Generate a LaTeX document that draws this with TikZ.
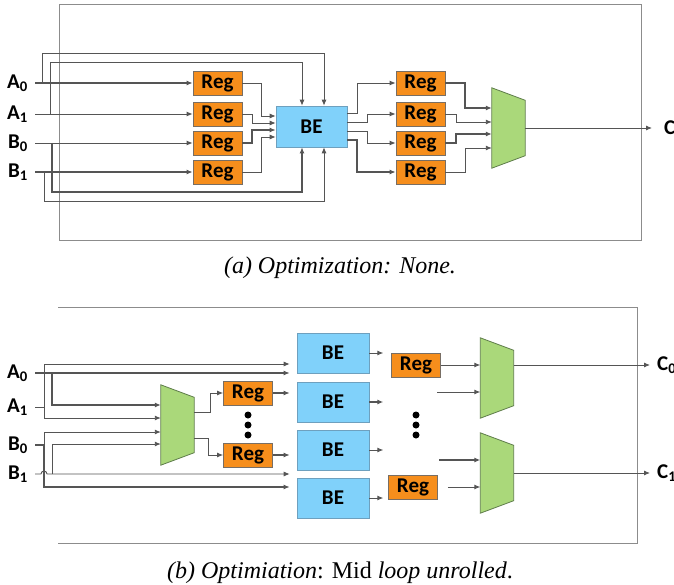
\documentclass[tikz,border=0pt]{standalone}
\usepackage{fontspec}
\setmainfont{Liberation Serif}
\newfontfamily\calib{Carlito}
\usepackage{xcolor}
\definecolor{wiregray}{RGB}{85,85,85}
\definecolor{framegray}{RGB}{140,140,140}
\definecolor{regorange}{RGB}{246,142,28}
\definecolor{regedge}{RGB}{120,110,100}
\definecolor{beblue}{RGB}{128,209,250}
\definecolor{beedge}{RGB}{110,160,190}
\definecolor{muxgreen}{RGB}{170,216,122}
\definecolor{muxedge}{RGB}{95,125,75}
\usetikzlibrary{arrows.meta, positioning}
\newcommand{\muxshape}[1]{%
  \filldraw[fill=muxgreen, draw=muxedge, line width=0.8pt]
    (#1.north west) -- ([yshift=-12.5pt]#1.north east)
    -- ([yshift=12.5pt]#1.south east) -- (#1.south west) -- cycle;}
\tikzset{
  >={Latex[length=6pt,width=5pt]},
  wthin/.style={wiregray, line width=0.9pt},
  wthick/.style={wiregray, line width=1.8pt},
  frame/.style={framegray, line width=1pt},
  sig/.style={font=\calib\bfseries\fontsize{21}{25}\selectfont, inner sep=0pt},
  regbox/.style={draw=regedge, fill=regorange, line width=0.7pt, minimum width=49pt,
    minimum height=24pt, inner sep=0pt, font=\calib\bfseries\fontsize{21}{25}\selectfont},
  bebox/.style={draw=beedge, fill=beblue, line width=0.6pt, inner sep=0pt,
    font=\calib\bfseries\fontsize{21}{25}\selectfont},
  beunit/.style={bebox, minimum width=72pt, minimum height=40pt},
  muxbox/.style={minimum width=33pt, minimum height=80pt, inner sep=0pt},
  dotmark/.style={circle, fill=black, inner sep=0pt, minimum size=7pt},
  captext/.style={font=\fontsize{24}{28}\selectfont\itshape, inner sep=0pt}
}

\begin{document}
\begin{tikzpicture}[x=1pt, y=-1pt]
  \useasboundingbox (0,0) rectangle (674,585);

  % (a) no optimization
  \draw[frame] (59,5) rectangle (641,241);
  \coordinate (ina0) at (35,83);
  \coordinate (ina1) at (35,114);
  \coordinate (inb0) at (35,143);
  \coordinate (inb1) at (35,172);
  \node[sig, left=7pt of ina0] (la0) {A\textsubscript{0}};
  \node[sig, left=7pt of ina1] (la1) {A\textsubscript{1}};
  \node[sig, left=7pt of inb0] (lb0) {B\textsubscript{0}};
  \node[sig, left=7pt of inb1] (lb1) {B\textsubscript{1}};
  \node[regbox] (ra0) at (217.5,83) {Reg};
  \node[regbox] (ra1) at (217.5,114) {Reg};
  \node[regbox] (rb0) at (217.5,143) {Reg};
  \node[regbox] (rb1) at (217.5,172) {Reg};
  \node[bebox, minimum width=71pt, minimum height=41pt] (be) at (311.5,126.5) {BE};
  \node[regbox] (rc0) at (420.5,83) {Reg};
  \node[regbox] (rc1) at (420.5,114) {Reg};
  \node[regbox] (rc2) at (420.5,143) {Reg};
  \node[regbox] (rc3) at (420.5,172) {Reg};
  \node[muxbox] (mxa) at (508.5,128) {};
  \muxshape{mxa}
  \coordinate (outc) at (652,128);
  \node[sig, right=12pt of outc] (lc) {C};

  \draw[wthick,->] (ina0) -- (ra0);
  \draw[wthin,->] (ina1) -- (ra1);
  \draw[wthin,->] (inb0) -- (rb0);
  \draw[wthick,->] (inb1) -- (rb1);
  % inputs straight into BE
  \draw[wthin,->] ([xshift=7pt]ina0) |- (324,53) -- ([xshift=12.5pt]be.north);
  \draw[wthin,->] ([xshift=15pt]ina1) |- (302,62) -- ([xshift=-9.5pt]be.north);
  \draw[wthick,->] ([xshift=17pt]inb0) |- (302,192) -- ([xshift=-9.5pt]be.south);
  \draw[wthin,->] ([xshift=9pt]inb1) |- (324,201) -- ([xshift=12.5pt]be.south);
  \draw[wthin,->] (ra0.east) -| (261,116) -- ([yshift=10.5pt]be.west);
  \draw[wthin,->] (ra1.east) -| (252,123) -- ([yshift=3.5pt]be.west);
  \draw[wthick,->] (rb0.east) -| (252,130) -- ([yshift=-3.5pt]be.west);
  \draw[wthin,->] (rb1.east) -| (261,137) -- ([yshift=-10.5pt]be.west);
  \draw[wthin,->] ([yshift=13.5pt]be.east) -| (357,83) -- (rc0.west);
  \draw[wthin,->] ([yshift=4.5pt]be.east) -| (367,114) -- (rc1.west);
  \draw[wthin,->] ([yshift=-4.5pt]be.east) -| (367,143) -- (rc2.west);
  \draw[wthick,->] ([yshift=-13.5pt]be.east) -| (357,172) -- (rc3.west);
  \draw[wthick,->] (rc0.east) -| (465,108) -- (mxa.west |- 0,108);
  \draw[wthin,->] (rc1.east) -| (456,122) -- (mxa.west |- 0,122);
  \draw[wthick,->] (rc2.east) -| (456,134) -- (mxa.west |- 0,134);
  \draw[wthin,->] (rc3.east) -| (465,148) -- (mxa.west |- 0,148);
  \draw[wthin,->] (mxa.east) -- (outc);
  \node[captext] (capa) at (340,268) {(a) Optimization: None.};

  % (b) mid loop unrolled
  \draw[frame] (58,307) -- (637,307) -- (637,543) -- (58,543);
  \coordinate (ina0b) at (35,373);
  \coordinate (ina1b) at (35,407);
  \coordinate (inb0b) at (35,445);
  \coordinate (inb1b) at (35,474);
  \node[sig, left=7pt of ina0b] (la0b) {A\textsubscript{0}};
  \node[sig, left=7pt of ina1b] (la1b) {A\textsubscript{1}};
  \node[sig, left=7pt of inb0b] (lb0b) {B\textsubscript{0}};
  \node[sig, left=7pt of inb1b] (lb1b) {B\textsubscript{1}};
  \node[muxbox] (mxb) at (177.5,425) {};
  \muxshape{mxb}
  \node[regbox] (rl1) at (248,393) {Reg};
  \node[regbox] (rl2) at (248,455) {Reg};
  \node[dotmark] (dl1) at (248,415) {};
  \node[dotmark] (dl2) at (248,425) {};
  \node[dotmark] (dl3) at (248,435) {};
  \node[beunit] (be1) at (333,353) {BE};
  \node[beunit] (be2) at (333,402) {BE};
  \node[beunit] (be3) at (333,450) {BE};
  \node[beunit] (be4) at (333,498) {BE};
  \node[regbox] (rr1) at (416,365) {Reg};
  \node[regbox] (rr2) at (413,487) {Reg};
  \node[dotmark] (dr1) at (416,415) {};
  \node[dotmark] (dr2) at (416,425) {};
  \node[dotmark] (dr3) at (416,435) {};
  \node[muxbox] (mxc) at (497,378) {};
  \muxshape{mxc}
  \node[muxbox] (mxd) at (497,473) {};
  \muxshape{mxd}
  \coordinate (fc) at (437,392);
  \coordinate (fd) at (439,460);
  \coordinate (outc0) at (650,365);
  \coordinate (outc1) at (650,473);
  \node[sig, right=7pt of outc0] (lc0) {C\textsubscript{0}};
  \node[sig, right=7pt of outc1] (lc1) {C\textsubscript{1}};

  \draw[wthick,->,shorten >=7pt] (ina0b) -- (be1.west |- ina0b);
  \draw[wthick,->] ([xshift=17pt]ina0b) |- (mxb.west |- 0,405);
  \draw[wthin,->,shorten >=7pt] (ina1b) -| (44,364) -- (be1.west |- 0,364);
  \draw[wthin,->] (44,364) |- (mxb.west |- 0,418);
  \draw[wthick,->,shorten >=7pt] (inb0b) -| (44,487) -- (be4.west |- 0,487);
  \draw[wthin,->] (44,487) |- (mxb.west |- 0,432);
  \draw[wthin,->,shorten >=7pt] (inb1b) -- ++(6,0) arc (180:360:3) -- (be4.west |- inb1b);
  \draw[wthin,->] ([xshift=17pt]inb1b) |- (mxb.west |- 0,444);
  \draw[wthin,->] (mxb.east |- 0,412) -| (210,393) -- (rl1.west);
  \draw[wthin,->] (mxb.east |- 0,438) -| (208,455) -- (rl2.west);
  \draw[wthick,->,shorten >=7pt] (rl1.east) -- (be2.west |- rl1.east);
  \draw[wthick,->,shorten >=7pt] (rl2.east) -- (be3.west |- rl2.east);
  \draw[wthin,->] (be1.east) -- ++(14,0);
  \draw[wthick,->] (be2.east) -- ++(14,0);
  \draw[wthin,->] (be3.east) -- ++(14,0);
  \draw[wthin,->] (be4.east) -- ++(14,0);
  \draw[wthin,->] (rr1.east) -- (mxc.west |- rr1.east);
  \draw[wthin,->] (fc) -- (mxc.west |- fc);
  \draw[wthick,->] (fd) -- (mxd.west |- fd);
  \draw[wthin,->,shorten <=10pt] (rr2.east) -- (mxd.west |- rr2.east);
  \draw[wthin,->] (mxc.east |- outc0) -- (outc0);
  \draw[wthin,->] (mxd.east) -- (outc1);
  \node[captext] (capb) at (340,573) {(b) Optimiation\upshape: Mid \itshape loop unrolled\upshape.};
\end{tikzpicture}
\end{document}
